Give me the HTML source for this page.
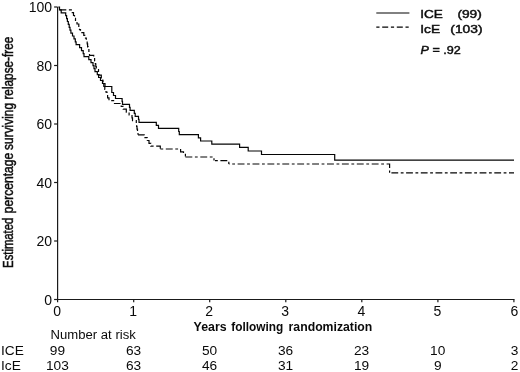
<!DOCTYPE html>
<html><head><meta charset="utf-8"><title>Relapse-free survival</title>
<style>
html,body{margin:0;padding:0;background:#fff;}
svg{display:block;will-change:transform;font-family:"Liberation Sans",Arial,sans-serif;fill:#0a0a0a;}
.ax{stroke:#1a1a1a;stroke-width:1.2;fill:none;}
.cv{stroke:#050505;stroke-width:1.2;fill:none;stroke-linejoin:miter;}
.t13{font-size:13.7px;}
.t14{font-size:14px;}
.t11{font-size:11.3px;}
</style></head><body>
<svg width="520" height="372" viewBox="0 0 520 372">
<rect width="520" height="372" fill="#fff"/>
<path class="ax" d="M57.6,7.0 V299.5 H514.5"/>
<path class="ax" d="M54.1,299.5 H57.6"/>
<path class="ax" d="M54.1,241.0 H57.6"/>
<path class="ax" d="M54.1,182.5 H57.6"/>
<path class="ax" d="M54.1,124.0 H57.6"/>
<path class="ax" d="M54.1,65.5 H57.6"/>
<path class="ax" d="M54.1,7.0 H57.6"/>
<path class="ax" d="M57.6,299.5 V302.3"/>
<path class="ax" d="M133.7,299.5 V302.3"/>
<path class="ax" d="M209.7,299.5 V302.3"/>
<path class="ax" d="M285.8,299.5 V302.3"/>
<path class="ax" d="M361.8,299.5 V302.3"/>
<path class="ax" d="M437.9,299.5 V302.3"/>
<path class="ax" d="M513.9,299.5 V302.3"/>
<text class="t14" x="52.0" y="304.9" text-anchor="end">0</text>
<text class="t14" x="52.0" y="246.4" text-anchor="end">20</text>
<text class="t14" x="52.0" y="187.9" text-anchor="end">40</text>
<text class="t14" x="52.0" y="129.4" text-anchor="end">60</text>
<text class="t14" x="52.0" y="70.9" text-anchor="end">80</text>
<text class="t14" x="52.0" y="12.4" text-anchor="end">100</text>
<text class="t14" x="57.1" y="316.4" text-anchor="middle">0</text>
<text class="t14" x="133.2" y="316.4" text-anchor="middle">1</text>
<text class="t14" x="209.2" y="316.4" text-anchor="middle">2</text>
<text class="t14" x="285.2" y="316.4" text-anchor="middle">3</text>
<text class="t14" x="361.3" y="316.4" text-anchor="middle">4</text>
<text class="t14" x="437.4" y="316.4" text-anchor="middle">5</text>
<text class="t14" x="514.5" y="316.4" text-anchor="middle">6</text>
<text transform="translate(12.7,267.9) rotate(-90)" font-size="14" textLength="50.2" lengthAdjust="spacingAndGlyphs" stroke="#111" stroke-width="0.5">Estimated</text>
<text transform="translate(12.7,213.2) rotate(-90)" font-size="14" textLength="60.3" lengthAdjust="spacingAndGlyphs" stroke="#111" stroke-width="0.5">percentage</text>
<text transform="translate(12.7,149.9) rotate(-90)" font-size="14" textLength="47.0" lengthAdjust="spacingAndGlyphs" stroke="#111" stroke-width="0.5">surviving</text>
<text transform="translate(12.7,99.6) rotate(-90)" font-size="14" textLength="63.0" lengthAdjust="spacingAndGlyphs" stroke="#111" stroke-width="0.5">relapse-free</text>
<text x="193.6" y="330.6" font-size="12.3" font-weight="bold" textLength="33.0" lengthAdjust="spacingAndGlyphs">Years</text>
<text x="231.3" y="330.6" font-size="12.3" font-weight="bold" textLength="52.0" lengthAdjust="spacingAndGlyphs">following</text>
<text x="288.6" y="330.6" font-size="12.3" font-weight="bold" textLength="83.7" lengthAdjust="spacingAndGlyphs">randomization</text>
<path class="cv" d="M58.3,7.0H59.5V9.9H61.2V12.8H65.7V15.7H66.6V18.6H67.4V21.5H68.3V24.4H69.2V27.3H70.0V30.2H70.9V33.1H72.5V36.0H74.0V38.9H75.3V41.8H76.1V44.7H79.6V47.7H81.5V50.7H83.2V53.7H84.0V56.6H88.8V59.6H91.0V62.6H93.0V65.6H94.0V68.6H95.0V71.6H97.3V74.6H98.6V77.5H100.5V80.5H102.5V83.5H105.0V86.5H111.8V92.5H113.5V95.5H115.5V98.5H122.1V101.4H122.5V104.4H129.5V107.4H130.1V110.4H134.3V113.4H135.2V116.4H138.5V119.3H139.0V122.3H156.3V125.3H158.5V128.3H178.7V131.5H179.3V134.6H198.4V137.8H200.6V141.0H211.8V144.2H239.6V147.4H248.2V151.0H261.5V154.5H334.7V160.2H514.0"/>
<path class="cv" stroke-dasharray="6.6 2.6 3 2.6" d="M59.7,9.8H72.3V12.7H73.5V15.5H74.5V18.4H75.5V21.2H77.0V24.0H78.8V26.9H79.5V29.7H80.5V32.6H83.8V35.4H84.8V38.2H86.3V41.1H87.2V43.9H87.6V46.8H88.2V49.6H88.9V52.4H89.5V55.3H93.7V58.1H94.6V61.0H95.3V63.8H95.8V66.6H96.3V69.5H98.5V72.3H99.0V75.2H101.3V78.0H102.8V80.8H103.0V83.7H103.8V86.5H104.8V89.3H106.0V92.2H107.0V95.0H107.6V97.9H109.0V100.7H114.5V103.5H121.2V106.4H123.2V109.2H126.3V112.1H129.1V114.9H132.0V117.8H132.5V120.6H136.3V123.4H136.6V126.3H137.0V129.1H137.5V131.9H138.0V134.8"/>
<path class="cv" stroke-dasharray="6.6 2.6 3 2.6" d="M138.0,134.8H144.2V137.6H147.3V140.5H149.0V143.3H150.8V146.2H160.3V149.0"/>
<path class="cv" stroke-dasharray="6.9 2.6 2.8 2.6" stroke-dashoffset="9.4" d="M160.3,148.99H180.6V151.8H183.5V154.4H185.4V157"/>
<path class="cv" stroke-dasharray="6.9 2.6 2.8 2.6" stroke-dashoffset="0" d="M185.4,157H214V160.6"/>
<path class="cv" stroke-dasharray="6.9 2.6 2.8 2.6" stroke-dashoffset="8.5" d="M214,160.6H228.8V164"/>
<path class="cv" stroke-dasharray="6.9 2.6 2.8 2.6" stroke-dashoffset="6.1" d="M228.8,164H389.6V172.8"/>
<path class="cv" stroke-dasharray="6.8 2.55 2.8 2.55" stroke-dashoffset="12.9" d="M389.6,172.8H514"/>
<path class="cv" d="M376.3,13 H409.4"/>
<path class="cv" stroke-dasharray="6 2.7 3.2 2.7" stroke-dashoffset="8.7" d="M376.3,27.2 H409.4"/>
<text class="t11" x="420.3" y="17.6" textLength="22.6" lengthAdjust="spacingAndGlyphs" stroke="#111" stroke-width="0.45">ICE</text><text class="t11" x="457.4" y="17.6" textLength="24.4" lengthAdjust="spacingAndGlyphs" stroke="#111" stroke-width="0.45">(99)</text>
<text class="t11" x="420.3" y="32.8" textLength="19.8" lengthAdjust="spacingAndGlyphs" stroke="#111" stroke-width="0.45">IcE</text><text class="t11" x="450.3" y="32.8" textLength="32.2" lengthAdjust="spacingAndGlyphs" stroke="#111" stroke-width="0.45">(103)</text>
<text class="t11" x="420.6" y="54.1" textLength="40.2" lengthAdjust="spacingAndGlyphs" stroke="#111" stroke-width="0.45"><tspan font-style="italic">P</tspan> = .92</text>
<text class="t13" x="50.6" y="338.8" textLength="85.2" lengthAdjust="spacingAndGlyphs">Number at risk</text>
<text class="t13" x="1" y="354.9">ICE</text><text class="t13" x="1" y="370">IcE</text>
<text class="t13" x="57.4" y="354.9" text-anchor="middle">99</text>
<text class="t13" x="57.4" y="370" text-anchor="middle">103</text>
<text class="t13" x="133.5" y="354.9" text-anchor="middle">63</text>
<text class="t13" x="133.5" y="370" text-anchor="middle">63</text>
<text class="t13" x="209.5" y="354.9" text-anchor="middle">50</text>
<text class="t13" x="209.5" y="370" text-anchor="middle">46</text>
<text class="t13" x="285.6" y="354.9" text-anchor="middle">36</text>
<text class="t13" x="285.6" y="370" text-anchor="middle">31</text>
<text class="t13" x="361.6" y="354.9" text-anchor="middle">23</text>
<text class="t13" x="361.6" y="370" text-anchor="middle">19</text>
<text class="t13" x="437.7" y="354.9" text-anchor="middle">10</text>
<text class="t13" x="437.7" y="370" text-anchor="middle">9</text>
<text class="t13" x="514.5" y="354.9" text-anchor="middle">3</text>
<text class="t13" x="514.5" y="370" text-anchor="middle">2</text>
</svg></body></html>
